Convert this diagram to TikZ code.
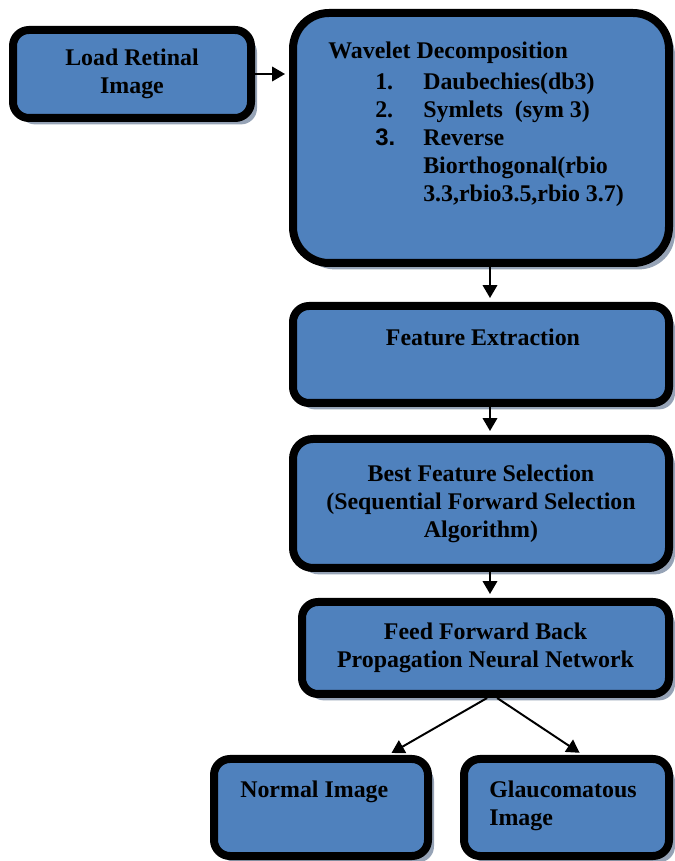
\documentclass[tikz,border=0pt]{standalone}
\usepackage{fontspec}
\setmainfont{Liberation Serif}
\newfontfamily\arialfont{Liberation Sans}
\usepackage{tikz}
\usetikzlibrary{arrows.meta, positioning, shadows}
\definecolor{boxblue}{RGB}{79,129,189}
\definecolor{shadowgray}{RGB}{150,163,182}
\tikzset{
  stagebox/.style={rectangle, draw=black, fill=boxblue, line width=0.2cm,
    inner sep=0pt, align=center, rounded corners=0.4cm,
    font=\fontsize{17}{19.85}\selectfont\bfseries,
    drop shadow={shadow xshift=0.15cm, shadow yshift=-0.16cm,
      fill=shadowgray, opacity=1}},
  txt/.style={inner sep=0pt, align=left,
    font=\fontsize{17}{19.85}\selectfont\bfseries},
  arrow/.style={-{Triangle[length=0.32cm, width=0.36cm]}, line width=1.4pt,
    color=black, shorten >=0.1cm}
}
\begin{document}
\begin{tikzpicture}
  \useasboundingbox (0,0) rectangle (16.85,21.525);

  % Input and decomposition
  \node[stagebox, minimum width=5.95cm, minimum height=2.2cm] (load) at (3.3, 19.675) {Load Retinal\\Image};
  \node[stagebox, minimum width=9.4cm, minimum height=6.25cm, rounded corners=0.9cm] (wav) at (12.025, 18.075) {};
  \node[txt, anchor=north west] (wavtxt) at (8.2, 20.55) {%
    \begin{tabular}{@{\hspace{1.175cm}}p{1.2cm}@{}l@{}}
      \multicolumn{2}{@{}l@{}}{Wavelet Decomposition}\\[2pt]
      1. & Daubechies(db3)\\
      2. & Symlets\ \ (sym 3)\\
      {\arialfont 3.} & Reverse\\
         & Biorthogonal(rbio\\
         & 3.3,rbio3.5,rbio 3.7)
    \end{tabular}};

  % Features
  \node[stagebox, minimum width=9.4cm, minimum height=2.425cm] (fe) at (12.025, 12.6625) {};
  \node[txt] (fetxt) at ([xshift=0.05cm, yshift=0.44cm]fe.center) {Feature Extraction};
  \node[stagebox, minimum width=9.4cm, minimum height=3.225cm, rounded corners=0.5cm] (best) at (12.025, 8.9375)
    {Best Feature Selection\\(Sequential Forward Selection\\Algorithm)};

  % Classifier and outputs
  \node[stagebox, minimum width=9.175cm, minimum height=2.3cm] (ff) at (12.1375, 5.325)
    {Feed Forward Back\\Propagation Neural Network};
  \node[stagebox, minimum width=5.35cm, minimum height=2.425cm] (nb) at (8.025, 1.3375) {};
  \node[txt, anchor=west] (nbtxt) at (6.0, 1.725) {Normal Image};
  \node[stagebox, minimum width=5.125cm, minimum height=2.425cm] (gl) at (14.1625, 1.3375) {};
  \node[txt, anchor=west] (gltxt) at (12.225, 1.375) {Glaucomatous\\Image};

  % Connections
  \draw[arrow] (load.east) -- (load.east -| wav.west);
  \draw[arrow] ([xshift=0.225cm]wav.south) -- ([xshift=0.225cm]fe.north);
  \draw[arrow] ([xshift=0.225cm]fe.south) -- ([xshift=0.225cm]best.north);
  \draw[arrow] ([xshift=0.225cm]best.south) -- ([xshift=0.1125cm]ff.north);
  \draw[arrow] ([xshift=0.04cm]ff.south) -- ([xshift=1.675cm]nb.north);
  \draw[arrow] ([xshift=0.29cm]ff.south) -- ([xshift=0.41cm]gl.north);
\end{tikzpicture}
\end{document}
